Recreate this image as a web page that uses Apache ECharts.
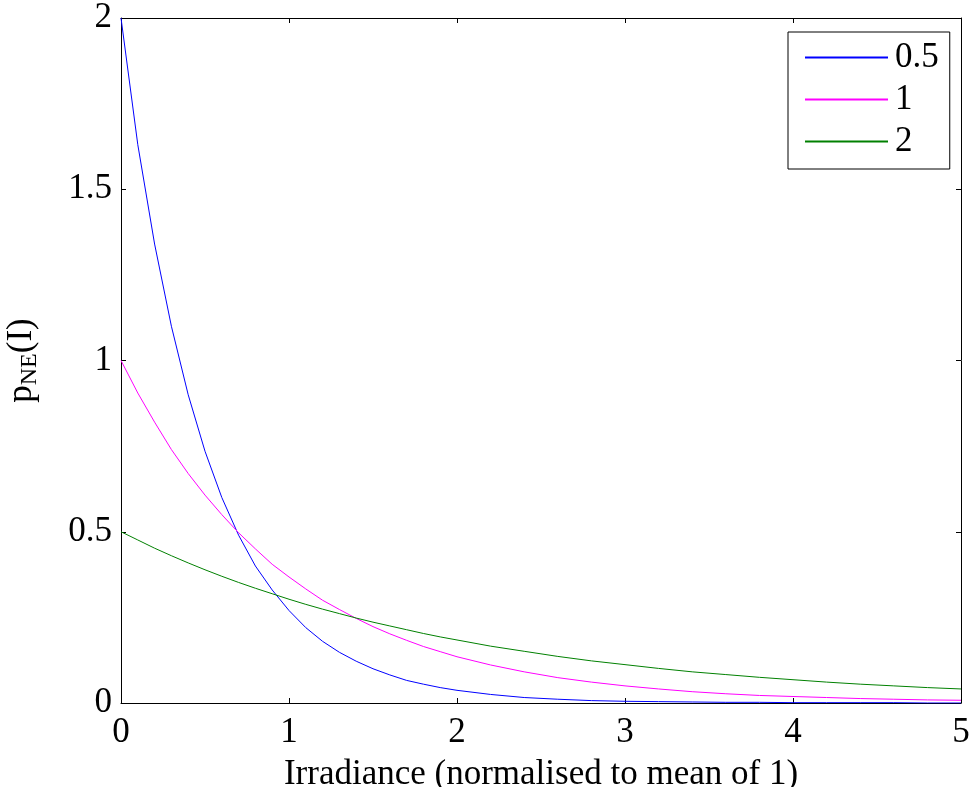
<!DOCTYPE html>
<html><head><meta charset="utf-8">
<script src="https://cdn.jsdelivr.net/npm/echarts@6/dist/echarts.min.js"></script>
<style>html,body{margin:0;padding:0;background:#fff}#c{width:975px;height:787px}</style>
</head><body><div id="c"></div>
<script>
var xs = [0,0.1,0.2,0.3,0.4,0.5,0.6,0.7,0.8,0.9,1.0,1.1,1.2,1.3,1.4,1.5,1.6,1.7,1.8,1.9,2.0,
          2.2,2.4,2.6,2.8,3.0,3.2,3.4,3.6,3.8,4.0,4.2,4.4,4.6,4.8,5.0];
var s05 = [2.00,1.63,1.34,1.10,0.90,0.735,0.60,0.49,0.40,0.33,0.27,0.22,0.18,0.148,0.122,0.10,0.082,0.066,0.055,0.045,0.037,
           0.025,0.016,0.011,0.007,0.005,0.004,0.003,0.002,0.002,0.001,0.001,0.001,0.001,0.000,0.000];
var s1 = [1.00,0.905,0.82,0.74,0.67,0.607,0.55,0.497,0.45,0.405,0.368,0.333,0.30,0.273,0.247,0.223,0.202,0.183,0.165,0.150,0.135,
          0.111,0.091,0.074,0.061,0.050,0.041,0.033,0.027,0.022,0.019,0.016,0.013,0.011,0.009,0.008];
var s2 = [0.50,0.476,0.452,0.430,0.409,0.389,0.370,0.352,0.335,0.319,0.303,0.288,0.274,0.261,0.248,0.236,0.225,0.214,0.203,0.193,0.184,
          0.166,0.151,0.136,0.123,0.112,0.101,0.091,0.083,0.075,0.068,0.061,0.055,0.050,0.045,0.041];
var names = ['0.5','1','2'];
var colors = ['#0000ff','#ff00ff','#008000'];
var xTicks = [0,1,2,3,4,5];
var yTicks = [0,0.5,1,1.5,2];

function pairs(ys){ return xs.map(function(x,i){return [x, ys[i]];}); }
var font = 'Liberation Serif';
var FS = 35;
var chart = echarts.init(document.getElementById('c'));
var axisCommon = {
  axisLine:{show:true,onZero:false,lineStyle:{color:'#000',width:1}},
  axisTick:{show:true,inside:true,length:5,lineStyle:{color:'#000'}},
  splitLine:{show:false}
};
chart.setOption({
  animation:false,
  color: colors,
  grid:{left:121,right:14,top:18,bottom:84,containLabel:false,outerBoundsMode:'none'},
  legend:{
    data:names.map(function(n,i){return {name:n,itemStyle:{color:colors[i],borderWidth:0}};}),
    orient:'vertical', left:788, top:32,
    backgroundColor:'#fff', borderColor:'#000', borderWidth:1,
    padding:[8,11,10,17], itemWidth:83, itemHeight:2, itemGap:7,
    icon:'rect',
    textStyle:{fontFamily:font,fontSize:FS,color:'#000',lineHeight:35,padding:[0,0,0,2]}
  },
  xAxis:[
    Object.assign({type:'value',min:0,max:5,interval:1,position:'bottom',
      axisLabel:{fontFamily:font,fontSize:FS,color:'#000',margin:12},
      name:'Irradiance (normalised to mean of 1)',nameLocation:'middle',nameGap:54,
      nameTextStyle:{fontFamily:font,fontSize:FS,color:'#000'}},axisCommon),
    Object.assign({type:'value',min:0,max:5,interval:1,position:'top',axisLabel:{show:false}},axisCommon)
  ],
  yAxis:[
    Object.assign({type:'value',min:0,max:2,interval:0.5,position:'left',
      axisLabel:{fontFamily:font,fontSize:FS,color:'#000',margin:9},
      name:'{p|p}{s|NE}{p|(I)}',nameLocation:'middle',nameGap:79,nameRotate:90,
      nameTextStyle:{fontFamily:font,color:'#000',rich:{
        p:{fontFamily:font,fontSize:FS,color:'#000'},
        s:{fontFamily:font,fontSize:24,color:'#000',verticalAlign:'bottom',padding:[16,0,0,0]}}}},axisCommon),
    Object.assign({type:'value',min:0,max:2,interval:0.5,position:'right',axisLabel:{show:false}},axisCommon)
  ],
  series: [s05,s1,s2].map(function(d,i){
    return {name:names[i],type:'line',data:pairs(d),symbol:'none',smooth:false,
      lineStyle:{width:1,color:colors[i]},itemStyle:{color:colors[i]}};
  })
});
</script></body></html>
